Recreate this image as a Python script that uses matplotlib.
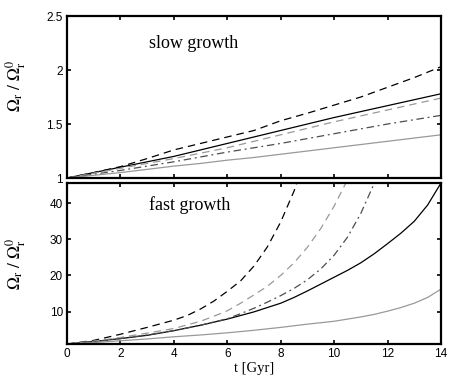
import matplotlib
matplotlib.use("Agg")
import matplotlib.pyplot as plt

plt.rcParams['font.family'] = ['Liberation Sans', 'DejaVu Sans']
plt.rcParams['mathtext.fontset'] = 'stix'

# ---- slow growth (top) ----
t_slow = [0, 1, 2, 3, 4, 5, 6, 7, 8, 9, 10, 11, 12, 13, 14]
slow_dashed_black = [1, 1.05, 1.105, 1.18, 1.26, 1.32, 1.38, 1.44, 1.53, 1.60, 1.675, 1.75, 1.84, 1.93, 2.03]
slow_solid_black = [1, 1.05, 1.10, 1.15, 1.20, 1.26, 1.32, 1.38, 1.44, 1.50, 1.56, 1.615, 1.67, 1.725, 1.78]
slow_dashed_gray = [1, 1.045, 1.09, 1.135, 1.18, 1.23, 1.28, 1.34, 1.40, 1.46, 1.52, 1.575, 1.63, 1.685, 1.74]
slow_dashdot = [1, 1.035, 1.07, 1.11, 1.15, 1.195, 1.24, 1.28, 1.32, 1.365, 1.41, 1.455, 1.50, 1.54, 1.58]
slow_solid_gray = [1, 1.025, 1.05, 1.08, 1.11, 1.135, 1.165, 1.19, 1.22, 1.25, 1.28, 1.31, 1.34, 1.37, 1.40]

# ---- fast growth (bottom) ----
t_fd_black = [0, 1, 2, 3, 4, 4.5, 5, 5.5, 6, 6.5, 7, 7.5, 8, 8.5, 9]
fast_dashed_black = [1, 2.0, 3.7, 5.6, 7.6, 8.9, 10.7, 12.9, 15.6, 18.5, 22.6, 27.9, 34.8, 43.4, 54.0]

t_fd_gray = [0, 1, 2, 3, 4, 5, 5.5, 6, 6.5, 7, 7.5, 8, 8.5, 9, 9.5, 10, 10.5, 11]
fast_dashed_gray = [1, 1.8, 2.8, 4.0, 5.3, 7.3, 8.7, 10.2, 12.3, 14.6, 17.0, 20.0, 23.5, 27.8, 33.0, 39.2, 46.5, 55.0]

t_fdd = [0, 1, 2, 3, 4, 5, 6, 6.5, 7, 7.5, 8, 8.5, 9, 9.5, 10, 10.5, 11, 11.5, 12]
fast_dashdot = [1, 1.6, 2.5, 3.5, 4.7, 6.2, 8.0, 9.4, 10.9, 12.6, 14.4, 16.4, 18.8, 21.8, 25.6, 30.6, 37.2, 45.5, 56.0]

t_fs = [0, 1, 2, 3, 4, 5, 6, 7, 8, 8.5, 9, 9.5, 10, 10.5, 11, 11.5, 12, 12.5, 13, 13.5, 14]
fast_solid_black = [1, 1.7, 2.5, 3.4, 4.7, 6.2, 7.9, 9.9, 12.3, 13.9, 15.7, 17.6, 19.5, 21.4, 23.5, 26.0, 28.8, 31.7, 35.0, 39.5, 45.6]
fast_solid_gray = [1, 1.4, 1.9, 2.4, 3.0, 3.5, 4.1, 4.8, 5.6, 6.05, 6.5, 6.9, 7.3, 7.9, 8.5, 9.2, 10.1, 11.1, 12.3, 13.9, 16.2]

xticks = [0, 2, 4, 6, 8, 10, 12, 14]
yticks_top = [1, 1.5, 2, 2.5]
yticks_bot = [10, 20, 30, 40]

W, H = 458, 389
fig = plt.figure(figsize=(W / 100, H / 100), dpi=100)
left = 67 / W
width = 374 / W
ax1 = fig.add_axes([left, 1 - 178 / H, width, 162 / H])
ax2 = fig.add_axes([left, 1 - 344 / H, width, 161 / H])

lw = 0.9
dash = (0, (6, 4))
dashdot = (0, (6, 3, 1.5, 3))

def style(ax):
    for s in ax.spines.values():
        s.set_linewidth(1.6)
    ax.tick_params(direction='in', top=True, right=True, length=3, width=1.2,
                   labelsize=8.5, pad=3)
    ax.set_xlim(0, 14)
    ax.set_xticks(xticks)

ax1.plot(t_slow, slow_dashed_black, color='black', lw=lw, linestyle=dash)
ax1.plot(t_slow, slow_solid_black, color='black', lw=lw)
ax1.plot(t_slow, slow_dashed_gray, color='0.6', lw=lw, linestyle=dash)
ax1.plot(t_slow, slow_dashdot, color='0.3', lw=lw, linestyle=dashdot)
ax1.plot(t_slow, slow_solid_gray, color='0.6', lw=lw)
style(ax1)
ax1.set_ylim(1, 2.5)
ax1.set_yticks(yticks_top)
ax1.set_yticklabels(['1', '1.5', '2', '2.5'])
ax1.set_xticklabels([])
ax1.text(0.22, 0.83, 'slow growth', transform=ax1.transAxes,
         family='Liberation Serif', fontsize=13, va='center', ha='left')
ylab = r'$\Omega_{\mathrm{r}}\ /\ \Omega_{\mathrm{r}}^{0}$'
ax1.set_ylabel(ylab, fontsize=12.5)

ax2.plot(t_fd_black, fast_dashed_black, color='black', lw=lw, linestyle=dash)
ax2.plot(t_fs, fast_solid_black, color='black', lw=lw)
ax2.plot(t_fd_gray, fast_dashed_gray, color='0.6', lw=lw, linestyle=dash)
ax2.plot(t_fdd, fast_dashdot, color='0.3', lw=lw, linestyle=dashdot)
ax2.plot(t_fs, fast_solid_gray, color='0.6', lw=lw)
style(ax2)
ax2.set_ylim(1, 45.6)
ax2.set_yticks(yticks_bot)
ax2.text(0.22, 0.86, 'fast growth', transform=ax2.transAxes,
         family='Liberation Serif', fontsize=13, va='center', ha='left')
ax2.set_ylabel(ylab, fontsize=12.5)
ax2.set_xlabel('t [Gyr]', family='Liberation Serif', fontsize=10.5, labelpad=1)

ax1.yaxis.set_label_coords(-0.105, 0.57)
ax2.yaxis.set_label_coords(-0.105, 0.5)

fig.savefig('out.png', dpi=100)
